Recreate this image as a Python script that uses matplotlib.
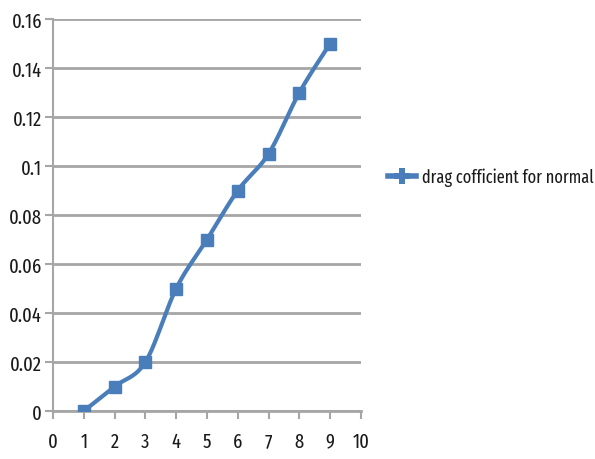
import numpy as np
import matplotlib
matplotlib.use("Agg")
import matplotlib.pyplot as plt
from matplotlib import font_manager
from matplotlib.font_manager import FontProperties

# data
x_vals = [1, 2, 3, 4, 5, 6, 7, 8, 9]
drag_normal = [0.0, 0.01, 0.02, 0.05, 0.07, 0.09, 0.105, 0.13, 0.15]
series_label = "drag cofficient for normal"
x_ticks = list(range(0, 11))
y_ticks = [0, 0.02, 0.04, 0.06, 0.08, 0.1, 0.12, 0.14, 0.16]
y_tick_labels = ["0", "0.02", "0.04", "0.06", "0.08", "0.1", "0.12", "0.14", "0.16"]

LINE_COLOR = "#4a7ebb"
GRID_COLOR = "#a6a6a6"
TEXT_COLOR = "#1a1a1a"

installed = {f.name for f in font_manager.fontManager.ttflist}
FAMILY = [n for n in ("Fira Sans Extra Condensed", "Fira Sans Condensed", "Archivo Narrow")
          if n in installed] + ["DejaVu Sans"]


def font(size):
    return FontProperties(family=FAMILY, size=size)


def smooth_curve(xs, ys, n=30):
    """Cardinal Bezier smoothing through the points."""
    xs = np.asarray(xs, float)
    ys = np.asarray(ys, float)
    px = np.concatenate([[xs[0]], xs, [xs[-1]]])
    py = np.concatenate([[ys[0]], ys, [ys[-1]]])
    out_x, out_y = [], []
    t = np.linspace(0, 1, n)
    for i in range(1, len(px) - 2):
        p0 = np.array([px[i], py[i]])
        p3 = np.array([px[i + 1], py[i + 1]])
        c1 = p0 + (np.array([px[i + 1], py[i + 1]]) - np.array([px[i - 1], py[i - 1]])) / 6
        c2 = p3 - (np.array([px[i + 2], py[i + 2]]) - np.array([px[i], py[i]])) / 6
        b = ((1 - t) ** 3)[:, None] * p0 + (3 * (1 - t) ** 2 * t)[:, None] * c1 \
            + (3 * (1 - t) * t ** 2)[:, None] * c2 + (t ** 3)[:, None] * p3
        out_x.extend(b[:, 0])
        out_y.extend(b[:, 1])
    return np.array(out_x), np.array(out_y)


fig = plt.figure(figsize=(5.95, 4.6), dpi=100)
ax = fig.add_axes([53 / 595, 48 / 460, 308 / 595, 392 / 460])

sx, sy = smooth_curve(x_vals, drag_normal)
ax.plot(sx, sy, color=LINE_COLOR, lw=3, solid_capstyle="round", zorder=3)
ax.plot(x_vals, drag_normal, ls="none", marker="s", ms=8, color=LINE_COLOR, zorder=4)

# legend proxy: thick line with a plus-shaped marker
ax.plot([], [], color=LINE_COLOR, lw=4, marker="P", ms=12, mew=0, label=series_label)

ax.set_xlim(0, 10)
ax.set_ylim(0, 0.16)
ax.set_xticks(x_ticks)
ax.set_xticklabels([str(v) for v in x_ticks])
ax.set_yticks(y_ticks)
ax.set_yticklabels(y_tick_labels)

ax.grid(axis="y", color=GRID_COLOR, lw=2)
ax.set_axisbelow(True)
for side in ("top", "right"):
    ax.spines[side].set_visible(False)
ax.spines["left"].set_color(GRID_COLOR)
ax.spines["bottom"].set_color(GRID_COLOR)
ax.spines["left"].set_linewidth(1.5)
ax.spines["bottom"].set_linewidth(2)
ax.tick_params(axis="both", colors=GRID_COLOR, length=5.5, width=1.5)
ax.tick_params(axis="x", pad=9)
ax.tick_params(axis="y", pad=2.5)
for lab in ax.get_xticklabels() + ax.get_yticklabels():
    lab.set_color(TEXT_COLOR)
    lab.set_fontproperties(font(14.5))

leg = fig.legend(loc="center left", bbox_to_anchor=(388 / 595, 1 - 178 / 460),
                 frameon=False, borderpad=0, borderaxespad=0,
                 handlelength=1.6, handletextpad=0.3, prop=font(12.8))
for t in leg.get_texts():
    t.set_color(TEXT_COLOR)

fig.savefig("out.png", dpi=100)
